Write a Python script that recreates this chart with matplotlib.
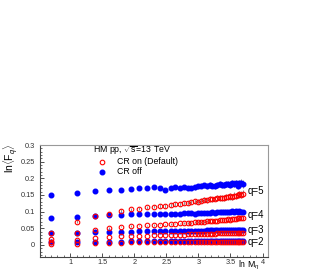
import numpy as np
import matplotlib
matplotlib.use("Agg")
import matplotlib.pyplot as plt
from matplotlib.ticker import MultipleLocator, FixedLocator

plt.rcParams['font.family'] = ['Liberation Sans', 'DejaVu Sans']
plt.rcParams['mathtext.fontset'] = 'custom'
plt.rcParams['mathtext.rm'] = 'Liberation Sans'
plt.rcParams['mathtext.it'] = 'Liberation Sans:italic'

# multiplicity M = 2..40, plotted against ln M
mult = list(range(2, 41))

off_q2 = [0.010,0.010,0.010,0.010,0.010,0.011,0.011,0.011,0.011,0.011,0.011,0.011,0.011,0.011,0.011,0.011,0.012,0.012,0.012,0.012,
          0.012,0.012,0.012,0.012,0.012,0.012,0.012,0.012,0.012,0.013,0.012,0.012,0.013,0.013,0.013,0.012,0.013,0.013,0.012]
off_q3 = [0.036,0.037,0.038,0.039,0.040,0.040,0.041,0.041,0.041,0.041,0.041,0.042,0.042,0.042,0.042,0.042,0.043,0.043,0.043,0.043,
          0.043,0.044,0.044,0.044,0.044,0.044,0.045,0.044,0.045,0.045,0.045,0.046,0.045,0.046,0.046,0.046,0.045,0.046,0.046]
off_q4 = [0.080,0.085,0.087,0.090,0.090,0.092,0.093,0.093,0.093,0.093,0.092,0.094,0.094,0.094,0.095,0.095,0.095,0.094,0.096,0.096,
          0.097,0.097,0.097,0.098,0.097,0.098,0.099,0.098,0.099,0.100,0.099,0.100,0.101,0.100,0.101,0.100,0.101,0.100,0.099]
off_q5 = [0.150,0.157,0.162,0.166,0.166,0.168,0.172,0.172,0.173,0.172,0.164,0.172,0.173,0.172,0.173,0.172,0.171,0.173,0.176,0.178,
          0.179,0.177,0.180,0.178,0.177,0.180,0.182,0.181,0.180,0.183,0.183,0.181,0.185,0.184,0.186,0.178,0.185,0.186,0.183]

on_q2 = [0.002,0.003,0.006,0.007,0.007,0.008,0.008,0.008,0.008,0.009,0.009,0.009,0.009,0.009,0.009,0.009,0.009,0.009,0.009,0.010,
         0.010,0.010,0.010,0.010,0.010,0.010,0.010,0.010,0.010,0.010,0.010,0.010,0.010,0.010,0.010,0.010,0.010,0.010,0.010]
on_q3 = [0.008,0.016,0.021,0.024,0.026,0.027,0.027,0.028,0.029,0.029,0.030,0.030,0.031,0.031,0.031,0.032,0.032,0.032,0.033,0.033,
         0.033,0.034,0.034,0.034,0.034,0.035,0.035,0.035,0.036,0.035,0.036,0.036,0.037,0.036,0.037,0.037,0.036,0.037,0.037]
on_q4 = [0.017,0.036,0.046,0.051,0.055,0.057,0.058,0.059,0.060,0.061,0.062,0.063,0.064,0.065,0.066,0.066,0.067,0.068,0.069,0.069,
         0.070,0.071,0.071,0.072,0.072,0.073,0.074,0.075,0.074,0.076,0.077,0.076,0.078,0.079,0.078,0.080,0.082,0.081,0.080]
on_q5 = [0.035,0.070,0.087,0.094,0.103,0.107,0.109,0.113,0.115,0.117,0.118,0.120,0.122,0.124,0.126,0.127,0.129,0.131,0.130,0.133,
         0.136,0.134,0.138,0.137,0.139,0.141,0.140,0.142,0.141,0.145,0.143,0.146,0.144,0.148,0.147,0.150,0.152,0.151,0.154]

err_q5 = [0.005,0.005,0.005,0.005,0.005,0.005,0.005,0.005,0.005,0.005,0.006,0.006,0.006,0.006,0.006,0.006,0.007,0.007,0.007,0.007,
          0.007,0.008,0.008,0.008,0.008,0.008,0.009,0.009,0.009,0.009,0.009,0.010,0.010,0.010,0.010,0.010,0.011,0.011,0.011]
err_q4 = [0.002,0.002,0.002,0.002,0.002,0.002,0.002,0.002,0.002,0.002,0.002,0.002,0.002,0.002,0.002,0.002,0.003,0.003,0.003,0.003,
          0.003,0.003,0.003,0.003,0.003,0.003,0.003,0.003,0.003,0.003,0.004,0.004,0.004,0.004,0.004,0.004,0.004,0.004,0.004]

legend_header = r'HM pp, $\sqrt{\mathrm{s}}$=13 TeV'
label_on = 'CR on (Default)'
label_off = 'CR off'
q_labels = ['q=2', 'q=3', 'q=4', 'q=5']

x = np.log(np.array(mult, dtype=float))

W, H = 322, 273
fig = plt.figure(figsize=(W / 100, H / 100), dpi=100)
L, R, B, T = 39.5, 268.3, 256.5, 145.0
ax = fig.add_axes([L / W, 1 - B / H, (R - L) / W, (B - T) / H])

blue = '#0000ff'
red = '#ff0000'
ecol = '#666666'
ms = 3.3

off_series = [(off_q2, None), (off_q3, None), (off_q4, err_q4), (off_q5, err_q5)]
on_series = [(on_q2, None), (on_q3, None), (on_q4, err_q4), (on_q5, err_q5)]

for vals, err in off_series:
    if err is not None:
        ax.errorbar(x, vals, yerr=err, fmt='none', ecolor=ecol, elinewidth=0.5, capsize=0, zorder=2)
    ax.plot(x, vals, 'o', color=blue, ms=ms, mec=blue, zorder=3)
for vals, err in on_series:
    if err is not None:
        ax.errorbar(x, vals, yerr=err, fmt='none', ecolor=ecol, elinewidth=0.5, capsize=0, zorder=2)
    ax.plot(x, vals, 'o', mfc='none', mec=red, ms=ms, mew=0.8, zorder=4)

ax.set_xlim(0.52, 4.09)
ax.set_ylim(-0.035, 0.3)

ax.xaxis.set_major_locator(FixedLocator([1, 1.5, 2, 2.5, 3, 3.5, 4]))
ax.xaxis.set_minor_locator(MultipleLocator(0.1))
ax.yaxis.set_major_locator(FixedLocator([0, 0.05, 0.1, 0.15, 0.2, 0.25, 0.3]))
ax.yaxis.set_minor_locator(MultipleLocator(0.01))
ax.set_xticklabels(['1', '1.5', '2', '2.5', '3', '3.5', '4'])
ax.set_yticklabels(['0', '0.05', '0.1', '0.15', '0.2', '0.25', '0.3'])
ax.tick_params(which='both', direction='in', top=False, right=False, labelsize=5.3, colors='#333333')
ax.tick_params(which='major', length=3.0, width=0.6)
ax.tick_params(which='minor', length=1.5, width=0.5)
ax.tick_params(axis='y', pad=3.5)
ax.tick_params(axis='x', pad=1.5)
for s in ['left', 'bottom']:
    ax.spines[s].set_color('#444444')
    ax.spines[s].set_linewidth(0.8)
for s in ['top', 'right']:
    ax.spines[s].set_color('#999999')
    ax.spines[s].set_linewidth(0.8)

# legend drawn as text + markers
ax.text(0.234, 0.949, legend_header, transform=ax.transAxes, fontsize=6.3, ha='left', va='center')
ax.plot([0.274], [0.850], 'o', mfc='none', mec=red, ms=ms, mew=0.8, transform=ax.transAxes, clip_on=False)
ax.plot([0.274], [0.761], 'o', color=blue, ms=ms, transform=ax.transAxes, clip_on=False)
ax.text(0.337, 0.850, label_on, transform=ax.transAxes, fontsize=6.3, ha='left', va='center')
ax.text(0.337, 0.761, label_off, transform=ax.transAxes, fontsize=6.3, ha='left', va='center')

# q labels
q_y = [242, 230, 215, 191]
for lab, yp in zip(q_labels, q_y):
    ax.text(0.91, (B - yp) / (B - T), lab, transform=ax.transAxes, fontsize=7, ha='left', va='center')

fig.text(10.5 / W, 1 - 143 / H, r'$\mathrm{ln}\langle\mathrm{F}_{q}\rangle$', rotation=90,
         ha='center', va='top', fontsize=7.5)
fig.text(259.5 / W, 0.5 / H, r'$\mathrm{ln}\ \mathrm{M}_{\eta}$', ha='right', va='bottom', fontsize=6.3)

fig.savefig('out.png', dpi=100)
